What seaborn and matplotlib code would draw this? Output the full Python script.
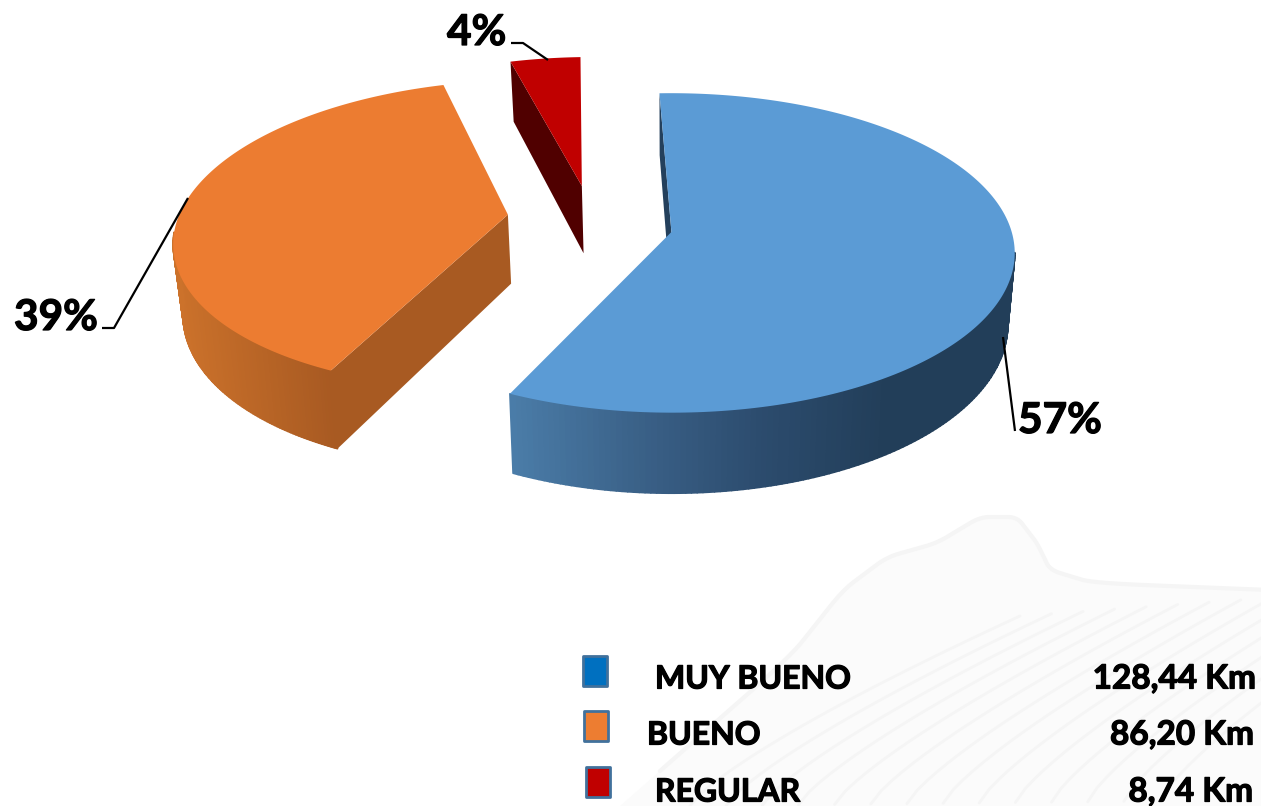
import numpy as np
import pandas as pd
import matplotlib
matplotlib.use("Agg")
import matplotlib.pyplot as plt
import matplotlib.patheffects as pe
from matplotlib.collections import PolyCollection
from matplotlib.path import Path
import seaborn as sns

# ── DATA ──────────────────────────────────────────────────────────────────────
CATEGORIES = ["MUY BUENO", "BUENO", "REGULAR"]
KM = [128.44, 86.20, 8.74]
KM_LABELS = ["128,44 Km", "86,20 Km", "8,74 Km"]

# ── STYLE ─────────────────────────────────────────────────────────────────────
sns.set_theme(style="white")
plt.rcParams["font.family"] = ["Lato", "DejaVu Sans"]

TOP = ["#5B9BD5", "#EC7C31", "#C00000"]
FACE = ["#24405C", "#A85A22", "#500000"]
WALL = [["#4B7DA9", "#3B6289", "#2C4C6E", "#223E59", "#223E59"],
        ["#CC722B", "#A85A22"],
        ["#500000", "#500000"]]
SWATCH = ["#0070C0", "#ED7D31", "#C00000"]

# perspective of the pie plane, in pixels of the figure
CX, CY, FX, FY, PERSP = 668, 232, 342, 157, 0.131
DEPTH, BOTTOM_SCALE = 70, 0.98
START_ANGLE = -2.2
EXPLODE = [(0.01, 0), (-0.475, 0.112), (-0.262, 0.305)]
RADIUS_X = [0.995, 0.975, 0.98]
RADIUS_Y = [1, 0.995, 1]

BOLD = [pe.withStroke(linewidth=0.9, foreground="black")]


def project(x, y, bottom=False):
    den = 1 + PERSP * y
    sx = FX * x / den
    sy = -FY * y / den
    if bottom:
        return CX + sx * BOTTOM_SCALE, CY + sy + DEPTH / den
    return CX + sx, CY + sy


def rim(a1, a2, off, rx, ry):
    t = np.radians(np.linspace(a1, a2, 240))
    return rx * np.sin(t) + off[0], ry * np.cos(t) + off[1], np.cos(t)


fig, ax = plt.subplots(figsize=(12.61, 8.06), dpi=100)
fig.subplots_adjust(0, 0, 1, 1)

# ── WATERMARK ─────────────────────────────────────────────────────────────────
wing = np.array([(620, 806), (790, 657), (843, 590), (887, 557), (937, 543), (980, 517),
                 (1017, 517), (1037, 543), (1050, 570), (1093, 583), (1320, 592)], float)
d = np.arange(len(wing))
dd = np.linspace(0, len(wing) - 1, 300)
wx = np.convolve(np.interp(dd, d, wing[:, 0]), np.ones(15) / 15, mode="valid")
wy = np.convolve(np.interp(dd, d, wing[:, 1]), np.ones(15) / 15, mode="valid")
ax.fill(np.r_[wx, 1320, 620], np.r_[wy, 806, 806], color="#FBFBFB", lw=0, zorder=0)
ax.plot(wx, wy, color="#F5F5F5", lw=3, zorder=0)
for i in range(14):
    s = i / 13
    t = np.linspace(0, 1, 30)
    fx = 690 + 470 * s + (330 - 60 * s) * t
    fy = 806 - (190 + 25 * s) * t ** 0.8 - 5 * s
    ax.plot(fx, fy, color="#F5F5F5", lw=2, zorder=0)

# ── PIE ───────────────────────────────────────────────────────────────────────
shares = np.array(KM) / sum(KM)
edges = START_ANGLE + np.concatenate([[0], np.cumsum(shares)]) * 360

for i, off in enumerate(EXPLODE):
    a1, a2 = edges[i], edges[i + 1]
    rx, ry, cos_t = rim(a1, a2, off, RADIUS_X[i], RADIUS_Y[i])

    # flat cut face at the start of the slice, the end one is never visible
    fxs = [project(rx[0], ry[0]), project(rx[0], ry[0], True),
           project(off[0], off[1], True), project(off[0], off[1])]
    ax.fill(*zip(*fxs), color=FACE[i], lw=0, zorder=2)

    # outer wall, front part only, shaded by position
    tx, ty = project(rx, ry)
    bx, by = project(rx, ry, True)
    cmap = sns.blend_palette(WALL[i], as_cmap=True)
    lo, hi = tx.min(), (tx.max() if i != 1 else project(rx[0], ry[0])[0])
    quads, cols = [], []
    for k in range(len(tx) - 1):
        if cos_t[k] > -0.12:
            continue
        quads.append([(tx[k], ty[k]), (tx[k + 1], ty[k + 1]),
                      (bx[k + 1], by[k + 1]), (bx[k], by[k])])
        cols.append(cmap(np.clip((tx[k] - lo) / (hi - lo), 0, 1)))
    if quads:
        ax.add_collection(PolyCollection(quads, facecolors=cols, edgecolors=cols,
                                         linewidths=1.2, zorder=3))

    # top surface
    px = np.concatenate([[project(off[0], off[1])[0]], tx])
    py = np.concatenate([[project(off[0], off[1])[1]], ty])
    ax.fill(px, py, color=TOP[i], lw=0, zorder=4)

# ── LEADERS & PERCENT LABELS ──────────────────────────────────────────────────
leaders = [[(1003, 337), (1015, 431)],
           [(188, 198), (114, 328), (102, 328)],
           [(548, 60), (523, 43), (511, 43)]]
for pts in leaders:
    ax.plot(*zip(*pts), color="black", lw=1.6, zorder=5, solid_capstyle="butt")

pct_pos = [(1018, 421), (14, 318), (447, 33)]
for share, (x, y) in zip(shares, pct_pos):
    ax.text(x, y, f"{share * 100:.0f}%", fontsize=30.5, fontweight="bold",
            ha="left", va="center", color="black", zorder=6, path_effects=BOLD)

# ── LEGEND ────────────────────────────────────────────────────────────────────
swatch_marker = Path([(-13, -16), (13, -16), (13, 16), (-13, 16), (-13, -16)], closed=True)
legend_df = pd.DataFrame({"cat": CATEGORIES,
                          "x": [595, 596, 598],
                          "y": [671, 726, 782]})
sns.scatterplot(data=legend_df, x="x", y="y", hue="cat", palette=SWATCH,
                marker=swatch_marker, s=480, edgecolor="#41719C", linewidth=2,
                legend=False, ax=ax, zorder=5)

name_x = [655, 647, 655]
km_x = [1256, 1254, 1253]
row_y = [679, 735, 792]
for name, km, nx, kx, y in zip(CATEGORIES, KM_LABELS, name_x, km_x, row_y):
    ax.text(nx, y, name, fontsize=23, fontweight="bold", ha="left", va="center",
            color="black", zorder=6, path_effects=BOLD)
    ax.text(kx, y, km, fontsize=24, fontweight="bold", ha="right", va="center",
            color="black", zorder=6, path_effects=BOLD)

ax.set_xlim(0, 1261)
ax.set_ylim(806, 0)
ax.set_xlabel("")
ax.set_ylabel("")
ax.axis("off")
sns.despine(ax=ax, left=True, bottom=True)

plt.savefig("out.png", dpi=100)
plt.close()
